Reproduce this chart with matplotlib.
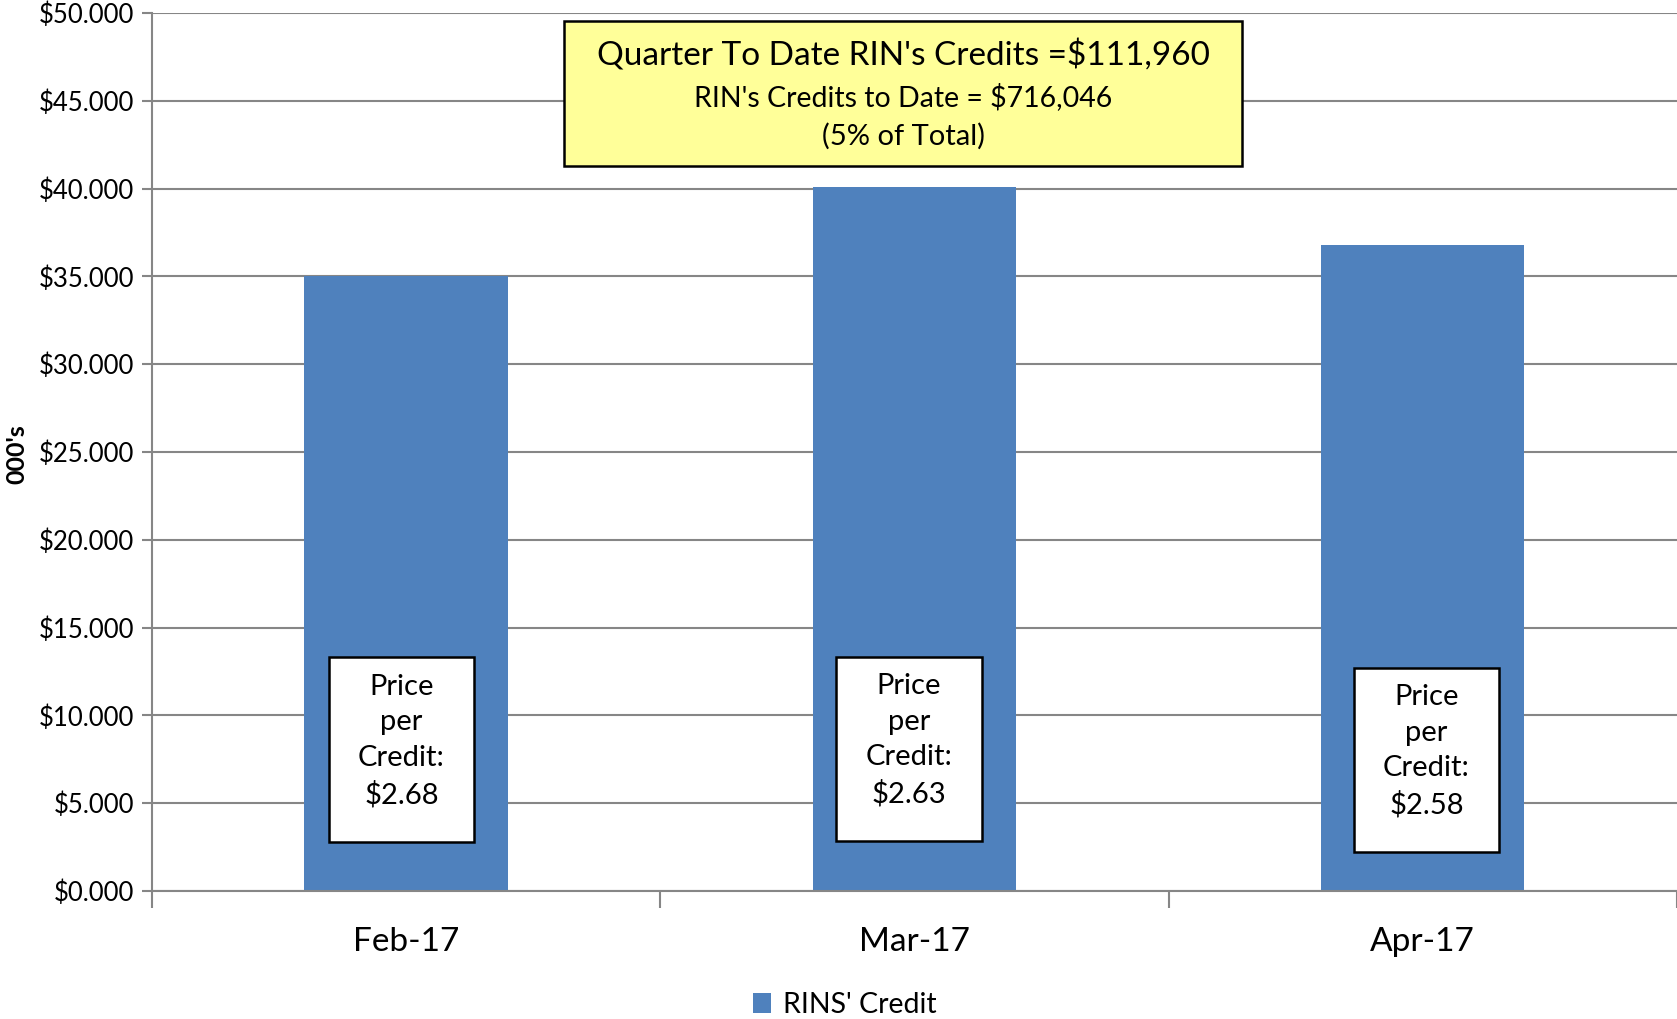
import matplotlib

matplotlib.use("Agg")
import matplotlib.pyplot as plt
from matplotlib.patches import Rectangle, Patch
from matplotlib.ticker import FuncFormatter

plt.rcParams["font.family"] = ["Lato", "DejaVu Sans"]

# data
months = ["Feb-17", "Mar-17", "Apr-17"]
credits = [35.0, 40.1, 36.8]          # thousands of $
prices = ["$2.68", "$2.63", "$2.58"]

BLUE = "#4F81BD"
GRID = "#868686"

fig = plt.figure(figsize=(16.77, 10.19), dpi=100)
ax = fig.add_axes([0.0906, 0.1256, 0.9094, 0.8616])

x = list(range(len(months)))
ax.bar(x, credits, width=0.4, color=BLUE, zorder=2)

ax.set_xlim(-0.5, len(months) - 0.5)
ax.set_ylim(0, 50)
ax.set_yticks(range(0, 51, 5))
ax.yaxis.set_major_formatter(FuncFormatter(lambda v, p: f"${v:.3f}"))
ax.grid(axis="y", color=GRID, linewidth=1.5, zorder=0)
ax.set_xticks(x)
ax.set_xticklabels(months, fontsize=24)
ax.tick_params(axis="x", length=0, pad=26)
ax.tick_params(axis="y", labelsize=18.5, length=7, width=1.5, color=GRID, pad=6)
# category boundary tick marks under the axis
ax.set_xticks([i - 0.5 for i in range(len(months) + 1)], minor=True)
ax.tick_params(axis="x", which="minor", length=12, width=1.5, color=GRID)

for s in ["top", "right"]:
    ax.spines[s].set_visible(False)
for s in ["left", "bottom"]:
    ax.spines[s].set_color(GRID)
    ax.spines[s].set_linewidth(1.5)

fig.text(17 / 1677, 1 - 454 / 1019, "000's", rotation=90, ha="center", va="center",
         fontsize=18, fontweight="bold")

# price-per-credit boxes inside the bars
box_off = [(-0.152, 0.134, 2.8, 13.3), (-0.154, 0.132, 2.85, 13.3), (-0.136, 0.150, 2.2, 12.7)]
for i, (p, (l, r, b, t)) in enumerate(zip(prices, box_off)):
    ax.add_patch(Rectangle((i + l, b), r - l, t - b, facecolor="white",
                           edgecolor="black", linewidth=1.8, zorder=3))
    ax.text(i + (l + r) / 2, (b + t) / 2 + 0.5, f"Price\nper\nCredit:\n{p}", ha="center",
            va="center", fontsize=21, linespacing=1.45, zorder=4)

# summary box
fig.patches.append(Rectangle((564 / 1677, 1 - 166 / 1019), 678 / 1677, 145 / 1019,
                             transform=fig.transFigure, facecolor="#FFFF99",
                             edgecolor="black", linewidth=1.8, zorder=5))
cx = 903 / 1677
fig.text(cx, 1 - 56 / 1019, "Quarter To Date RIN's Credits =$111,960", ha="center",
         va="center", fontsize=24, zorder=6)
fig.text(cx, 1 - 97 / 1019, "RIN's Credits to Date = $716,046", ha="center",
         va="center", fontsize=20.5, zorder=6)
fig.text(cx, 1 - 136 / 1019, "(5% of Total)", ha="center", va="center",
         fontsize=21, zorder=6)

fig.legend(handles=[Patch(facecolor=BLUE, label="RINS' Credit")], loc="center",
           bbox_to_anchor=(0.5035, 1 - 1005 / 1019), frameon=False, fontsize=20.5,
           handlelength=0.65, handleheight=0.65, handletextpad=0.4)

fig.savefig("out.png", dpi=100, facecolor="white")
